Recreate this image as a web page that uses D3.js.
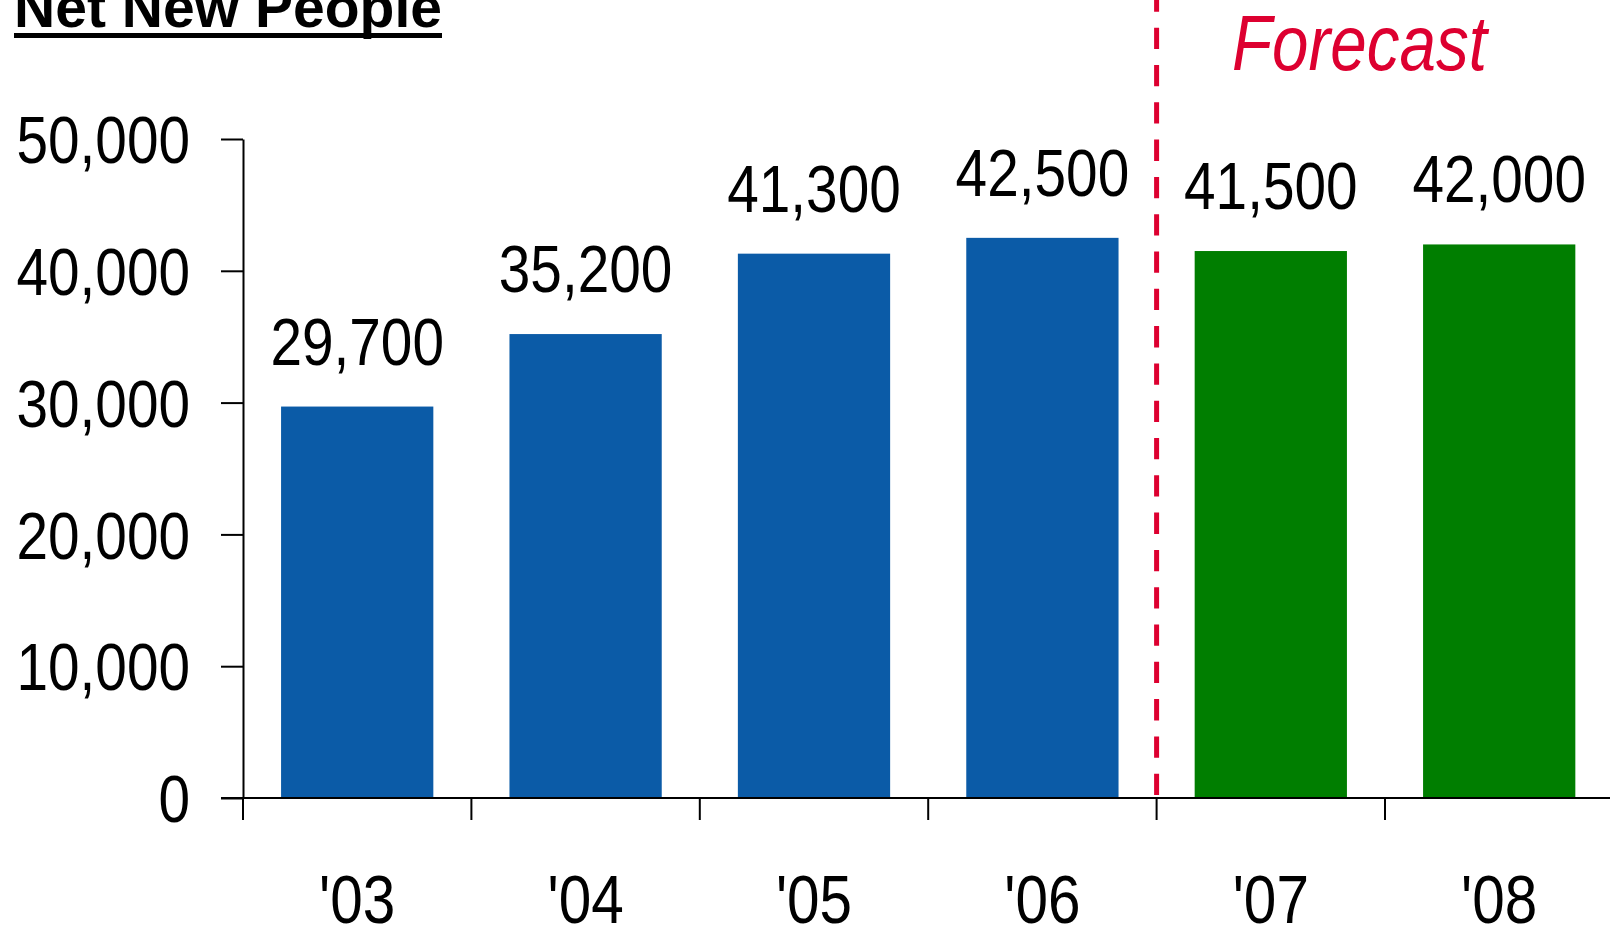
<!DOCTYPE html>
<html lang="en">
<head>
    <meta charset="UTF-8">
    <title>Net New People</title>
    <style>
        html, body { margin: 0; padding: 0; background: #fff; overflow: hidden; }
        svg { display: block; }
        .num { font-family: "Liberation Sans", Arial, sans-serif; }
    </style>
</head>
<body>
    <div id="chart"></div>

    <script src="https://cdn.jsdelivr.net/npm/d3@7/dist/d3.min.js"></script>
    <script>
        // data
        const years = ["'03", "'04", "'05", "'06", "'07", "'08"];
        const netNewPeople = [29700, 35200, 41300, 42500, 41500, 42000];
        const isForecast = [false, false, false, false, true, true];
        const yTicks = [0, 10000, 20000, 30000, 40000, 50000];

        const width = 1610, height = 928;
        const blue = "#0b5ba7", green = "#007e00", red = "#dd0030";
        const sx = 0.86; // horizontal squeeze, no narrow font installed

        const svg = d3.select("#chart").append("svg")
            .attr("width", width)
            .attr("height", height);

        const x = d3.scaleBand()
            .domain(years)
            .range([243, 243 + 6 * 228.4])
            .paddingInner(1 / 3)
            .paddingOuter(1 / 6);

        const y = d3.scaleLinear()
            .domain([0, 50000])
            .range([798, 139]);

        const fmt = d3.format(",");

        // squeezed text placed at (px, py)
        function narrowText(sel, px, py, size, anchor, k = sx) {
            return sel.append("g")
                .attr("transform", `translate(${px},${py})`)
                .append("text")
                .attr("class", "num")
                .attr("transform", `scale(${k},1)`)
                .attr("text-anchor", anchor)
                .attr("font-size", size);
        }

        // title
        svg.append("text")
            .attr("x", 14)
            .attr("y", 27)
            .attr("font-family", "Liberation Sans, Arial, sans-serif")
            .attr("font-weight", "bold")
            .attr("font-size", 58)
            .attr("textLength", 428)
            .attr("lengthAdjust", "spacingAndGlyphs")
            .text("Net New People");
        svg.append("rect")
            .attr("x", 14).attr("y", 33)
            .attr("width", 428).attr("height", 5)
            .attr("fill", "#000");

        // bars
        svg.append("g").selectAll("rect")
            .data(years)
            .join("rect")
            .attr("x", d => x(d))
            .attr("y", (d, i) => y(netNewPeople[i]))
            .attr("width", x.bandwidth())
            .attr("height", (d, i) => y(0) - y(netNewPeople[i]))
            .attr("fill", (d, i) => isForecast[i] ? green : blue);

        // value labels
        const gv = svg.append("g");
        years.forEach((d, i) => {
            narrowText(gv, x(d) + x.bandwidth() / 2, y(netNewPeople[i]) - 42, 66, "middle")
                .text(fmt(netNewPeople[i]));
        });

        // y axis
        const yAxis = svg.append("g")
            .attr("transform", "translate(243,0)")
            .call(d3.axisLeft(y)
                .tickValues(yTicks)
                .tickFormat(fmt)
                .tickSize(22)
                .tickSizeOuter(0)
                .tickPadding(31));
        yAxis.select(".domain").attr("stroke-width", 2);
        yAxis.selectAll(".tick line").attr("stroke-width", 2);
        yAxis.selectAll(".tick text")
            .attr("class", "num")
            .attr("font-size", 66)
            .attr("fill", "#000")
            .attr("x", -53 / sx)
            .attr("transform", `scale(${sx},1)`)
            .attr("dy", "0.36em");

        // x axis: baseline plus ticks at band boundaries
        const step = x.step();
        const gx = svg.append("g");
        gx.append("line")
            .attr("x1", 221).attr("x2", width)
            .attr("y1", y(0)).attr("y2", y(0))
            .attr("stroke", "#000").attr("stroke-width", 2);
        gx.selectAll("line.tk")
            .data(years)
            .join("line")
            .attr("class", "tk")
            .attr("x1", d => x(d) - step / 6)
            .attr("x2", d => x(d) - step / 6)
            .attr("y1", y(0)).attr("y2", y(0) + 22)
            .attr("stroke", "#000").attr("stroke-width", 2);
        years.forEach(d => {
            narrowText(gx, x(d) + x.bandwidth() / 2, 923, 68, "middle").text(d);
        });

        // forecast divider
        const fx = x(years[4]) - step / 6;
        svg.append("line")
            .attr("x1", fx).attr("x2", fx)
            .attr("y1", 795).attr("y2", -12)
            .attr("stroke", red)
            .attr("stroke-width", 5)
            .attr("stroke-dasharray", "21.3 16");

        narrowText(svg, 1232, 70, 78, "start", 0.84)
            .attr("font-style", "italic")
            .attr("fill", red)
            .text("Forecast");
    </script>
</body>
</html>
